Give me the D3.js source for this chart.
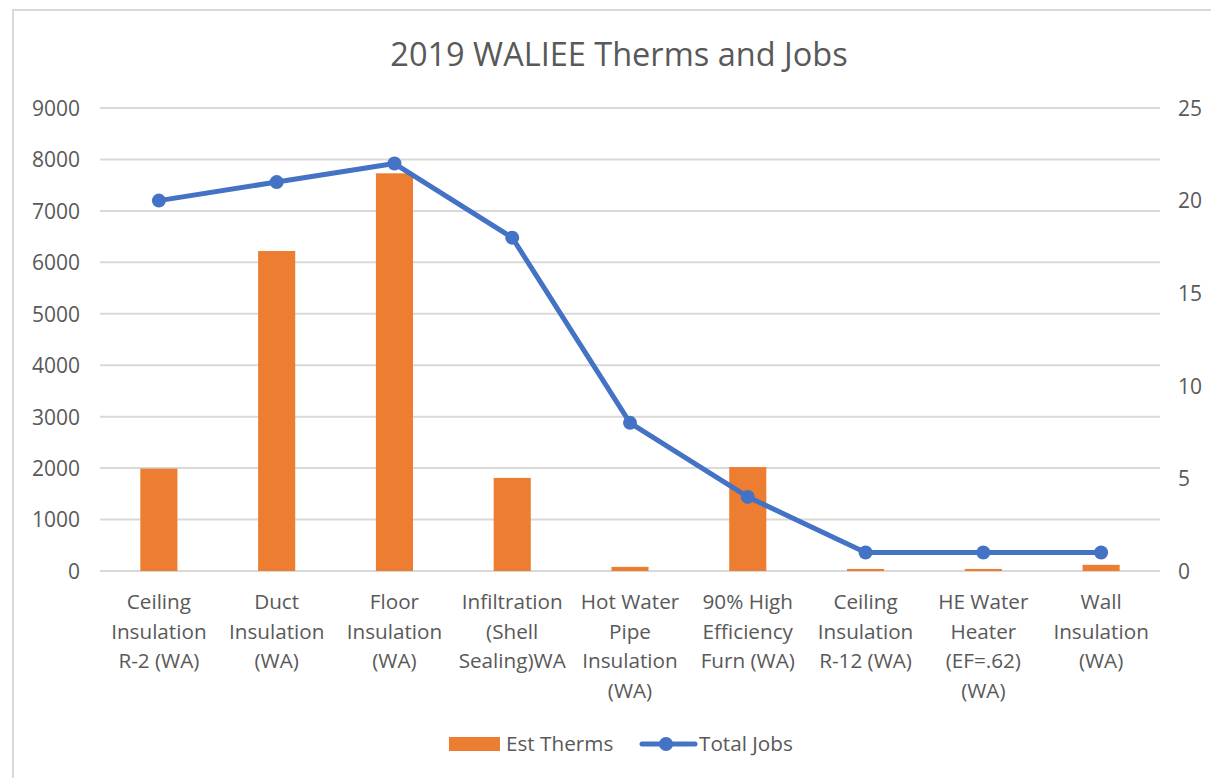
<!DOCTYPE html>
<html>
<head>
<meta charset="utf-8">
<script src="https://cdn.jsdelivr.net/npm/d3@7"></script>
<style>
  body { margin: 0; background: #fff; }
  svg { display: block; }
  svg text { font-family: "Open Sans", "Noto Sans", sans-serif; }
</style>
</head>
<body>
<svg id="chart" width="1211" height="778"></svg>
<script>
//Data
var categories = [
  ["Ceiling", "Insulation", "R-2 (WA)"],
  ["Duct", "Insulation", "(WA)"],
  ["Floor", "Insulation", "(WA)"],
  ["Infiltration", "(Shell", "Sealing)WA"],
  ["Hot Water", "Pipe", "Insulation", "(WA)"],
  ["90% High", "Efficiency", "Furn (WA)"],
  ["Ceiling", "Insulation", "R-12 (WA)"],
  ["HE Water", "Heater", "(EF=.62)", "(WA)"],
  ["Wall", "Insulation", "(WA)"]
];
var estTherms = [1990, 6220, 7730, 1810, 80, 2020, 40, 40, 120];
var totalJobs = [20, 21, 22, 18, 8, 4, 1, 1, 1];
var leftTicks = [0, 1000, 2000, 3000, 4000, 5000, 6000, 7000, 8000, 9000];
var rightTicks = [0, 5, 10, 15, 20, 25];

//Layout
var plot = {left: 100, right: 1160, top: 108, bottom: 571};
var textColor = "#595959";
var gridColor = "#d9d9d9";
var orange = "#ed7d31";
var blue = "#4472c4";
var labelSize = "20.7px";

var svg = d3.select("#chart");

//Chart frame
svg.append("rect")
  .attr("x", 13).attr("y", 10)
  .attr("width", 1230).attr("height", 800)
  .attr("fill", "#fff")
  .attr("stroke", gridColor).attr("stroke-width", 2);

//Scales
var x = d3.scaleBand()
  .domain(d3.range(categories.length))
  .range([plot.left, plot.right])
  .paddingInner(0.685).paddingOuter(0.3425);
var xCenter = d3.scaleBand().domain(d3.range(categories.length)).range([plot.left, plot.right]);
var yLeft = d3.scaleLinear().domain([0, 9000]).range([plot.bottom, plot.top]);
var yRight = d3.scaleLinear().domain([0, 25]).range([plot.bottom, plot.top]);

//Title
svg.append("text")
  .attr("x", 619).attr("y", 66)
  .attr("text-anchor", "middle")
  .attr("fill", textColor)
  .style("font-size", "32.5px")
  .text("2019 WALIEE Therms and Jobs");

//Gridlines
svg.append("g").selectAll("line").data(leftTicks).enter().append("line")
  .attr("x1", plot.left).attr("x2", plot.right)
  .attr("y1", function(d){return yLeft(d);})
  .attr("y2", function(d){return yLeft(d);})
  .attr("stroke", gridColor).attr("stroke-width", 2);

//Left axis
var leftAxis = svg.append("g")
  .attr("transform", "translate(" + (plot.left - 20) + ",0)")
  .call(d3.axisLeft(yLeft).tickValues(leftTicks).tickFormat(d3.format("d")).tickSize(0).tickPadding(0));
leftAxis.attr("font-family", null).attr("font-size", null);
leftAxis.select(".domain").remove();
leftAxis.selectAll("text").attr("fill", textColor).style("font-size", "21px").attr("dy", "0.35em");

//Right axis
var rightAxis = svg.append("g")
  .attr("transform", "translate(" + (plot.right + 18) + ",0)")
  .call(d3.axisRight(yRight).tickValues(rightTicks).tickSize(0).tickPadding(0));
rightAxis.attr("font-family", null).attr("font-size", null);
rightAxis.select(".domain").remove();
rightAxis.selectAll("text").attr("fill", textColor).style("font-size", "21px").attr("dy", "0.35em");

//Bars
svg.append("g").selectAll("rect").data(estTherms).enter().append("rect")
  .attr("x", function(d, i){return x(i);})
  .attr("width", x.bandwidth())
  .attr("y", function(d){return yLeft(d);})
  .attr("height", function(d){return yLeft(0) - yLeft(d);})
  .attr("fill", orange);

//Line
var line = d3.line()
  .x(function(d, i){return xCenter(i) + xCenter.bandwidth()/2;})
  .y(function(d){return yRight(d);});
svg.append("path")
  .datum(totalJobs)
  .attr("d", line)
  .attr("fill", "none")
  .attr("stroke", blue).attr("stroke-width", 5)
  .attr("stroke-linejoin", "round").attr("stroke-linecap", "round");
svg.append("g").selectAll("circle").data(totalJobs).enter().append("circle")
  .attr("cx", function(d, i){return xCenter(i) + xCenter.bandwidth()/2;})
  .attr("cy", function(d){return yRight(d);})
  .attr("r", 7)
  .attr("fill", blue);

//Category labels
var labels = svg.append("g").selectAll("text").data(categories).enter().append("text")
  .attr("text-anchor", "middle")
  .attr("fill", textColor)
  .style("font-size", labelSize);
labels.selectAll("tspan").data(function(d, i){return d.map(function(s){return {s: s, i: i};});})
  .enter().append("tspan")
  .attr("x", function(d){return xCenter(d.i) + xCenter.bandwidth()/2;})
  .attr("y", function(d, j){return 609 + j*29.7;})
  .text(function(d){return d.s;});

//Legend
var legend = svg.append("g");
legend.append("rect")
  .attr("x", 449).attr("y", 737).attr("width", 51).attr("height", 14)
  .attr("fill", orange);
legend.append("text")
  .attr("x", 506).attr("y", 751)
  .attr("fill", textColor).style("font-size", labelSize)
  .text("Est Therms");
legend.append("line")
  .attr("x1", 642).attr("x2", 695).attr("y1", 744).attr("y2", 744)
  .attr("stroke", blue).attr("stroke-width", 5).attr("stroke-linecap", "round");
legend.append("circle")
  .attr("cx", 666).attr("cy", 744).attr("r", 7).attr("fill", blue);
legend.append("text")
  .attr("x", 699).attr("y", 751)
  .attr("fill", textColor).style("font-size", labelSize)
  .text("Total Jobs");
</script>
</body>
</html>
